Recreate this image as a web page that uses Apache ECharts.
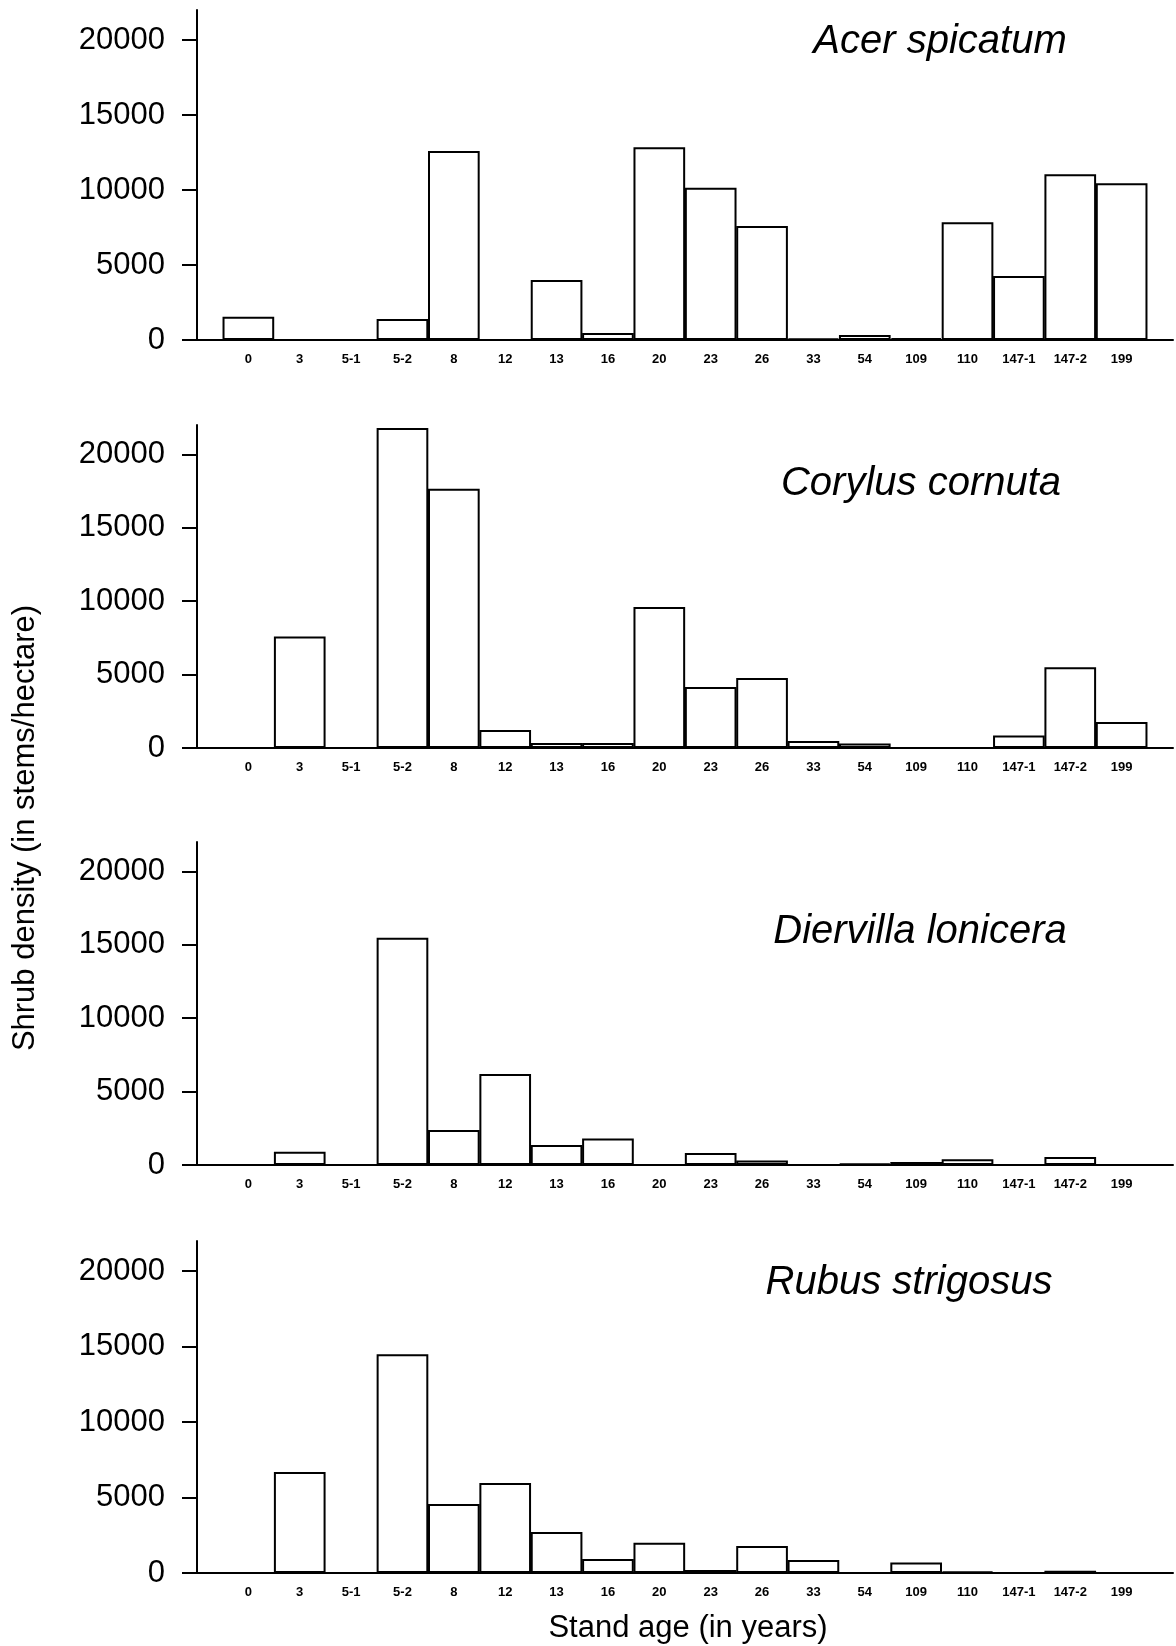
<!DOCTYPE html>
<html>
<head>
<meta charset="utf-8">
<script src="https://cdn.jsdelivr.net/npm/echarts@6/dist/echarts.min.js"></script>
<style>
  html, body { margin: 0; padding: 0; background: #fff; }
  #main { width: 1176px; height: 1646px; }
</style>
</head>
<body>
<div id="main"></div>
<script>
// stand ages (x axis)
var categories = ['0', '3', '5-1', '5-2', '8', '12', '13', '16', '20', '23', '26', '33', '54', '109', '110', '147-1', '147-2', '199'];
var yTicks = [0, 5000, 10000, 15000, 20000];

// shrub density, stems/hectare
var acer = [1550, 0, 0, 1400, 12600, 0, 4000, 470, 12850, 10150, 7600, 100, 330, 130, 7850, 4270, 11050, 10450];
var corylus = [0, 7600, 0, 21800, 17650, 1230, 340, 340, 9600, 4160, 4770, 480, 300, 0, 0, 850, 5500, 1770];
var diervilla = [0, 900, 0, 15480, 2390, 6200, 1370, 1800, 0, 820, 300, 0, 100, 200, 400, 0, 550, 0];
var rubus = [0, 6690, 0, 14500, 4570, 5960, 2720, 930, 2000, 200, 1790, 860, 0, 700, 100, 0, 150, 0];

var species = ['Acer spicatum', 'Corylus cornuta', 'Diervilla lonicera', 'Rubus strigosus'];
var seriesData = [acer, corylus, diervilla, rubus];

// panel layout
var panels = [
    { top: 10, height: 330, tx: 940, ty: 42 },
    { top: 425, height: 323, tx: 921, ty: 484 },
    { top: 842, height: 323, tx: 920, ty: 932 },
    { top: 1241, height: 332, tx: 909, ty: 1283 }
];
var gridLeft = 197, gridWidth = 982;
var unit = gridWidth / (categories.length + 1);
var font = 'Liberation Sans, Arial, sans-serif';

var chart = echarts.init(document.getElementById('main'));

var grids = [], xAxes = [], yAxes = [], series = [], graphics = [];
panels.forEach(function (p, i) {
    grids.push({ left: gridLeft, top: p.top, width: gridWidth, height: p.height });
    xAxes.push({
        type: 'value', gridIndex: i, min: -1, max: categories.length, interval: 1,
        axisLine: { show: true, lineStyle: { color: '#000', width: 2 } },
        axisTick: { show: false },
        splitLine: { show: false },
        axisLabel: {
            margin: 13, fontSize: 13, fontWeight: 'bold', color: '#000', fontFamily: font,
            formatter: function (v) { return categories[v] || ''; }
        }
    });
    yAxes.push({
        type: 'value', gridIndex: i, min: 0, max: 22000, interval: 5000,
        axisLine: { show: true, onZero: false, lineStyle: { color: '#000', width: 2 } },
        axisTick: { show: true, length: 15, customValues: yTicks, lineStyle: { color: '#000', width: 2 } },
        splitLine: { show: false },
        axisLabel: {
            margin: 32, fontSize: 31, color: '#000', fontFamily: font, customValues: yTicks,
            formatter: function (v) { return String(v); }
        }
    });
    series.push({
        type: 'bar', xAxisIndex: i, yAxisIndex: i,
        barWidth: unit,
        itemStyle: { color: '#fff', borderColor: '#000', borderWidth: 2 },
        data: seriesData[i].map(function (v, k) { return [k, v]; })
    });
    graphics.push({
        type: 'text', x: p.tx, y: p.ty,
        style: { text: species[i], font: 'italic 40px ' + font, fill: '#000', textAlign: 'center', textVerticalAlign: 'middle' }
    });
});

graphics.push({
    type: 'text', x: 25, y: 828, rotation: Math.PI / 2,
    style: { text: 'Shrub density (in stems/hectare)', font: '31px ' + font, fill: '#000', textAlign: 'center', textVerticalAlign: 'middle' }
});
graphics.push({
    type: 'text', x: 688, y: 1628,
    style: { text: 'Stand age (in years)', font: '31px ' + font, fill: '#000', textAlign: 'center', textVerticalAlign: 'middle' }
});

chart.setOption({
    animation: false,
    backgroundColor: '#fff',
    grid: grids,
    xAxis: xAxes,
    yAxis: yAxes,
    series: series,
    graphic: graphics
});
</script>
</body>
</html>
